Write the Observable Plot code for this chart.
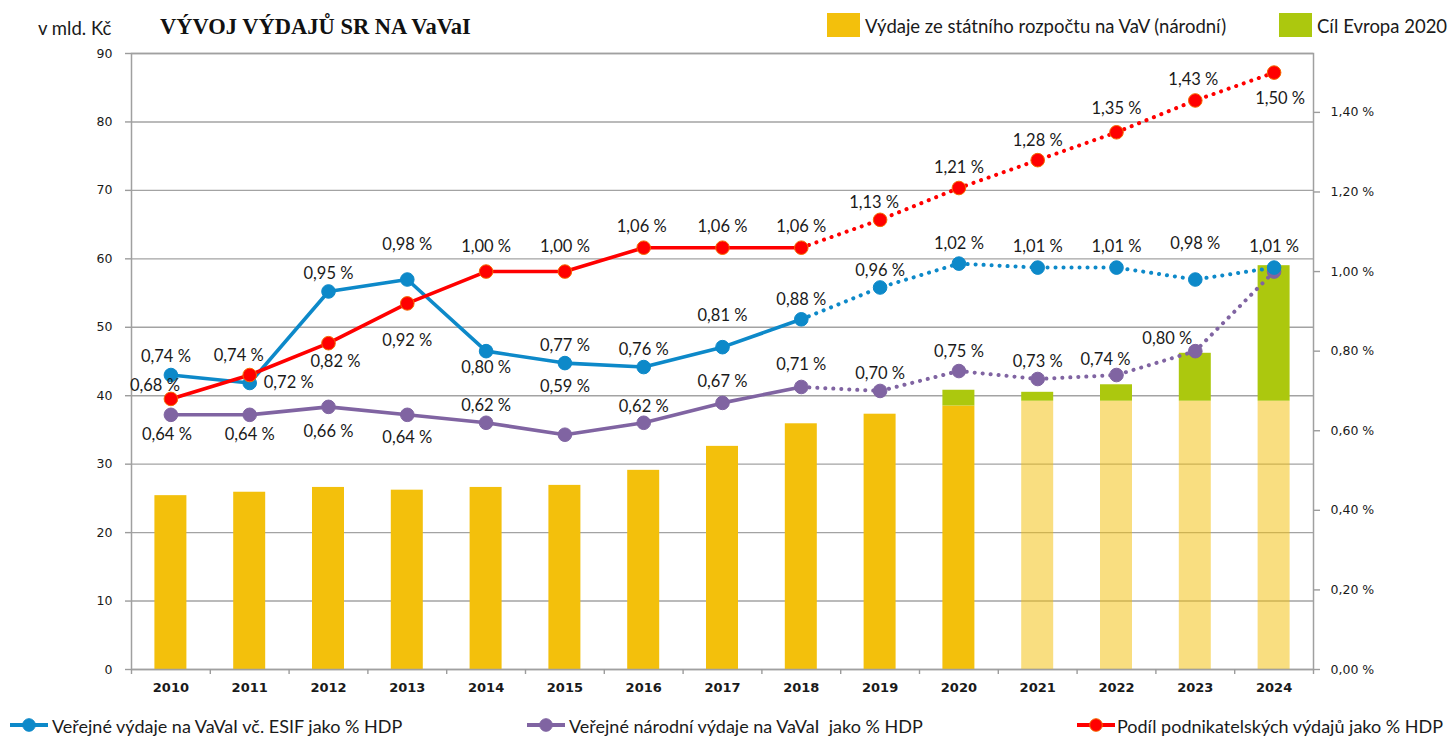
<!DOCTYPE html>
<html>
<head>
<meta charset="utf-8">
<script src="https://cdn.jsdelivr.net/npm/d3@7"></script>
<script src="https://cdn.jsdelivr.net/npm/@observablehq/plot@0.6"></script>
<style>
html, body { margin: 0; padding: 0; background: #fff; overflow: hidden; width: 1451px; height: 737px; }
#wrap { position: relative; width: 1451px; height: 737px; overflow: hidden; }
#chart { position: absolute; left: 0; top: 0; }
.abs { position: absolute; white-space: pre; color: #1a1a1a; line-height: 1; }
#unit { left: 38px; top: 17px; font: 18.5px Lato, sans-serif; }
#title { left: 160px; top: 14px; font: bold 22.5px "Liberation Serif", serif; color: #111; }
.key { position: absolute; }
.ltext { font: 18.5px Lato, sans-serif; }
.btext { font: 18px Lato, sans-serif; }
#chart svg [aria-label="y-axis tick"], #chart svg [aria-label="x-axis tick"] { stroke: #9c9c9c; stroke-width: 1.4px; }
</style>
</head>
<body>
<div id="wrap">
  <div id="chart"></div>
  <div class="abs" id="unit">v mld. Kč</div>
  <div class="abs" id="title">VÝVOJ VÝDAJŮ SR NA VaVaI</div>
  <div id="legendTop"></div>
  <div id="legendBottom"></div>
</div>
<script>
// ---------------- data ----------------
const years = [2010, 2011, 2012, 2013, 2014, 2015, 2016, 2017, 2018, 2019, 2020, 2021, 2022, 2023, 2024];
// Výdaje ze státního rozpočtu na VaV (národní), mld. Kč
const nationalBudget = [25.4, 25.9, 26.6, 26.2, 26.6, 26.9, 29.1, 32.6, 35.9, 37.3, 38.5, 39.2, 39.2, 39.2, 39.2];
// Cíl Evropa 2020 (total height of bar), mld. Kč
const europeTarget = [null, null, null, null, null, null, null, null, null, null, 40.8, 40.5, 41.6, 46.2, 59.0];
const firstPlannedYear = 2021;
const lastActualYear = 2018;
// % HDP
const publicInclEsif = [0.74, 0.72, 0.95, 0.98, 0.80, 0.77, 0.76, 0.81, 0.88, 0.96, 1.02, 1.01, 1.01, 0.98, 1.01];
const publicNational = [0.64, 0.64, 0.66, 0.64, 0.62, 0.59, 0.62, 0.67, 0.71, 0.70, 0.75, 0.73, 0.74, 0.80, 1.00];
const businessShare = [0.68, 0.74, 0.82, 0.92, 1.00, 1.00, 1.06, 1.06, 1.06, 1.13, 1.21, 1.28, 1.35, 1.43, 1.50];
const leftTicks = [0, 10, 20, 30, 40, 50, 60, 70, 80, 90];
const rightTicks = [0, 0.2, 0.4, 0.6, 0.8, 1.0, 1.2, 1.4];
const leftMax = 90;
const rightMax = 1.548;

const seriesNames = {
  bars: "Výdaje ze státního rozpočtu na VaV (národní)",
  target: "Cíl Evropa 2020",
  blue: "Veřejné výdaje na VaVaI vč. ESIF jako % HDP",
  purple: "Veřejné národní výdaje na VaVaI  jako % HDP",
  red: "Podíl podnikatelských výdajů jako % HDP"
};

// ---------------- layout / style ----------------
const W = 1451, H = 737, mT = 53, mB = 68, mL = 131, mR = 138;
const colors = {
  yellow: "#f3c00c", green: "#acc80e",
  blue: "#0d89c9", purple: "#8064a2", red: "#ff0000", redStroke: "#f56a00"
};
const k = leftMax / rightMax;                 // % -> left-axis units
const pyUnit = leftMax / (H - mT - mB);       // data units per pixel (y)
const pxUnit = (years.length) / (W - mL - mR); // data units per pixel (x)

// label offsets in pixels [dx, dy]
const blueOff = [[-5,-18],[39,0],[0,-18],[0,-35],[0,17],[0,-17],[0,-17],[0,-31],[0,-20],[0,-17],[0,-20],[0,-21],[0,-21],[0,-36],[0,-21]];
const redOff = [[-16,-13],[-11,-19],[7,19],[0,37],[0,-25],[0,-25],[-2,-21],[0,-21],[0,-21],[-6,-17],[0,-20],[0,-19],[0,-24],[-2,-21],[6,26]];
const purpleOff = [[-4,20],[0,20],[0,25],[0,23],[0,-17],[0,-48],[0,-16],[0,-21],[0,-22],[0,-17],[0,-19],[0,-17],[-11,-15],[-28,-12],null];

const barRows = years.map((year, i) => ({year, national: nationalBudget[i], target: europeTarget[i], planned: year >= firstPlannedYear}));
const mkRows = (vals, offs) => years.map((year, i) => ({year, v: vals[i], off: offs[i]}));
const blueRows = mkRows(publicInclEsif, blueOff);
const purpleRows = mkRows(publicNational, purpleOff);
const redRows = mkRows(businessShare, redOff);
const fmtPct = v => v.toFixed(2).replace(".", ",") + " %";
const halfBar = 0.203;

function seriesMarks(rows, color, dotStroke) {
  return [
    Plot.line(rows.filter(d => d.year <= lastActualYear), {x: "year", y: d => d.v * k, stroke: color, strokeWidth: 3.6, strokeLinejoin: "round"}),
    Plot.line(rows.filter(d => d.year >= lastActualYear), {x: "year", y: d => d.v * k, stroke: color, strokeWidth: 4, strokeDasharray: "0.1 7.9", strokeLinecap: "round"}),
    Plot.dot(rows, {x: "year", y: d => d.v * k, r: 6.8, fill: color, stroke: dotStroke || color, strokeWidth: 1})
  ];
}
function labelMark(rows) {
  return Plot.text(rows.filter(d => d.off), {
    x: d => d.year + d.off[0] * pxUnit,
    y: d => d.v * k - d.off[1] * pyUnit,
    text: d => fmtPct(d.v),
    fontSize: 16.5, fontFamily: "Lato, sans-serif", fill: "#1a1a1a"
  });
}

const boundaries = years.map(y => y - 0.5).concat([years[years.length - 1] + 0.5]);

const chart = Plot.plot({
  width: W, height: H,
  marginTop: mT, marginBottom: mB, marginLeft: mL, marginRight: mR,
  style: {fontFamily: "DejaVu Sans, sans-serif", fontSize: "12.5px", color: "#1a1a1a", background: "transparent"},
  x: {domain: [years[0] - 0.5, years[years.length - 1] + 0.5], axis: null},
  y: {domain: [0, leftMax], axis: null},
  marks: [
    Plot.ruleY(leftTicks, {stroke: "#a3a3a3", strokeWidth: 1.4}),
    Plot.rectY(barRows, {x1: d => d.year - halfBar, x2: d => d.year + halfBar, y1: 0, y2: "national",
      fill: colors.yellow, fillOpacity: d => d.planned ? 0.52 : 1}),
    Plot.rectY(barRows.filter(d => d.target != null), {x1: d => d.year - halfBar, x2: d => d.year + halfBar,
      y1: "national", y2: "target", fill: colors.green}),
    Plot.frame({stroke: "#a0a0a0", strokeWidth: 1.5}),
    Plot.axisY(leftTicks, {anchor: "left", tickSize: 6, tickPadding: 13, label: null, fontSize: 12.5}),
    Plot.axisY(rightTicks.map(t => t * k), {anchor: "right", tickSize: 6, tickPadding: 11, label: null, fontSize: 12.5,
      tickFormat: d => fmtPct(d / k)}),
    Plot.axisX(boundaries, {anchor: "bottom", tickSize: 5, tickFormat: () => "", label: null}),
    Plot.axisX(years, {anchor: "bottom", tickSize: 0, tickPadding: 13, label: null, fontWeight: "bold", fontSize: 13,
      tickFormat: d => String(d)}),
    ...seriesMarks(purpleRows, colors.purple),
    ...seriesMarks(blueRows, colors.blue),
    ...seriesMarks(redRows, colors.red, colors.redStroke),
    labelMark(purpleRows), labelMark(blueRows), labelMark(redRows)
  ]
});
document.getElementById("chart").appendChild(chart);

// ---------------- legends (HTML) ----------------
const topItems = [
  {name: seriesNames.bars, color: colors.yellow, keyX: 827, textX: 865},
  {name: seriesNames.target, color: colors.green, keyX: 1279, textX: 1317}
];
const lt = document.getElementById("legendTop");
topItems.forEach(it => {
  const sw = document.createElement("div");
  sw.className = "key";
  Object.assign(sw.style, {left: it.keyX + "px", top: "13px", width: "33px", height: "24px", background: it.color});
  lt.appendChild(sw);
  const t = document.createElement("div");
  t.className = "abs ltext";
  Object.assign(t.style, {left: it.textX + "px", top: "15px"});
  t.textContent = it.name;
  lt.appendChild(t);
});
const bottomItems = [
  {name: seriesNames.blue, color: colors.blue, keyX: 10, textX: 52},
  {name: seriesNames.purple, color: colors.purple, keyX: 527, textX: 569},
  {name: seriesNames.red, color: colors.red, keyX: 1077, textX: 1117, stroke: colors.redStroke}
];
const lb = document.getElementById("legendBottom");
bottomItems.forEach(it => {
  const ns = "http://www.w3.org/2000/svg";
  const s = document.createElementNS(ns, "svg");
  s.setAttribute("width", 40); s.setAttribute("height", 16);
  s.setAttribute("class", "key");
  s.style.left = it.keyX + "px"; s.style.top = "717px";
  const l = document.createElementNS(ns, "line");
  l.setAttribute("x1", 0); l.setAttribute("x2", 38); l.setAttribute("y1", 8); l.setAttribute("y2", 8);
  l.setAttribute("stroke", it.color); l.setAttribute("stroke-width", 4);
  s.appendChild(l);
  const c = document.createElementNS(ns, "circle");
  c.setAttribute("cx", 19); c.setAttribute("cy", 8); c.setAttribute("r", 6.3);
  c.setAttribute("fill", it.color); c.setAttribute("stroke", it.stroke || it.color);
  s.appendChild(c);
  lb.appendChild(s);
  const t = document.createElement("div");
  t.className = "abs btext";
  Object.assign(t.style, {left: it.textX + "px", top: "715px"});
  t.textContent = it.name;
  lb.appendChild(t);
});
</script>
</body>
</html>
